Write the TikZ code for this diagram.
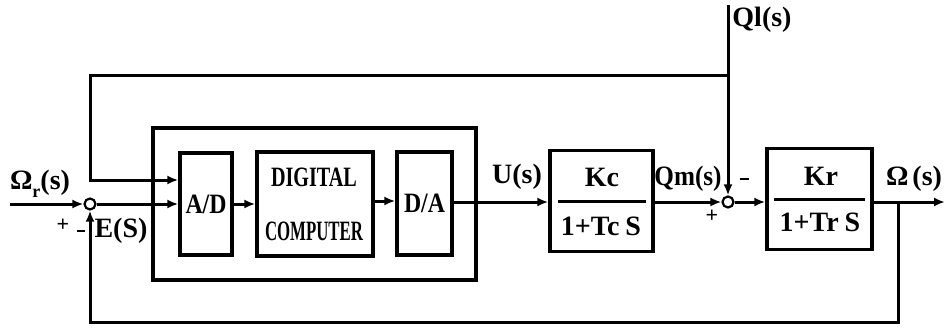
\documentclass[tikz,border=0pt]{standalone}
\usepackage{fontspec}
\setmainfont{Liberation Serif}
\usetikzlibrary{arrows.meta}
\begin{document}
\begin{tikzpicture}[x=1pt,y=-1pt,
  every node/.style={font=\fontsize{28}{32}\selectfont\bfseries},
  blk/.style={draw,line width=3.4pt,rectangle,inner sep=0pt,align=center},
  sumpt/.style={draw,circle,line width=2.2pt,minimum size=11pt,inner sep=0pt},
  wire/.style={line width=3pt},
  arr/.style={wire,-{Latex[length=11pt,width=9pt]}},
  lbl/.style={inner sep=0pt},
  sgn/.style={inner sep=0pt,font=\fontsize{22}{22}\selectfont\bfseries}]
\useasboundingbox (0,0) rectangle (950,333);
% outer box
\node[blk,minimum width=323pt,minimum height=152pt] (outer) at (314.5,204) {};
% blocks
\node[blk,minimum width=52pt,minimum height=102pt] (ad) at (206,204) {\scalebox{0.85}[1]{A/D}};
\node[blk,minimum width=116pt,minimum height=104pt] (dc) at (315,204) {};
\node[lbl] (dig) at (314,177) {\scalebox{0.72}[1]{DIGITAL}};
\node[lbl] (comp) at (314,231) {\scalebox{0.6}[1]{COMPUTER}};
\node[blk,minimum width=55pt,minimum height=103pt] (da) at (424.5,203.5) {\scalebox{0.85}[1]{D/A}};
\node[blk,minimum width=103pt,minimum height=101pt] (kc) at (601.5,201) {};
\node[lbl] (kcn) at (602,177) {Kc};
\node[lbl] (kcd) at (601,226) {1+Tc\hspace{6pt}S};
\draw[wire] ([xshift=10pt]kc.west) -- ([xshift=-9pt]kc.east);
\node[blk,minimum width=105pt,minimum height=101pt] (kr) at (819.5,199) {};
\node[lbl] (krn) at (821,176) {Kr};
\node[lbl] (krd) at (820,222) {1+Tr\hspace{6pt}S};
\draw[wire] ([xshift=9pt,yshift=0pt]kr.west) -- ([xshift=-9pt]kr.east);
% summing points
\node[sumpt] (s1) at (90,204) {};
\node[sumpt] (s2) at (728,202) {};
% coordinates
\coordinate (inp) at (10,204);
\coordinate (qtop) at (728,5);
\coordinate (j1) at (728,75);
\coordinate (c1) at (90,75);
\coordinate (c2) at (90,180);
\coordinate (j2) at (898,202);
\coordinate (c3) at (898,322);
\coordinate (c4) at (90,322);
\coordinate (out) at (945,202);
% connectors
\draw[arr] (inp) -- (s1.west);
\draw[arr] (s1.east) -- (ad.west |- s1);
\draw[arr] (ad.east |- 0,204) -- (dc.west |- 0,204);
\draw[arr] (dc.east |- 0,201) -- (da.west |- 0,201);
\draw[arr] (da.east |- 0,202) -- (kc.west |- 0,202);
\draw[arr] (kc.east |- s2) -- (s2.west);
\draw[arr] (s2.east) -- (kr.west |- s2);
\draw[arr] (kr.east |- out) -- (out);
\draw[arr] (qtop) -- (s2.north);
\draw[arr] (j1) -- (c1) -- (c2) -- (c2 -| ad.west);
\draw[arr] (j2) -- (c3) -- (c4) -- (s1.south);
% labels
\node[lbl] (omr) at (40,184) {Ω\raisebox{-8pt}{\fontsize{18}{18}\selectfont r}(s)};
\node[sgn] (p1) at (63,225) {+};
\node[sgn] (m1) at (81,232) {\rule[2pt]{8pt}{2.6pt}};
\node[lbl] (es) at (121,231) {E(S)};
\node[lbl] (us) at (517,177) {U(s)};
\node[lbl] (qm) at (688,179) {\scalebox{0.9}[1]{Qm(s)}};
\node[sgn] (m2) at (744,180) {\rule[2pt]{9pt}{2.6pt}};
\node[sgn] (p2) at (712,216) {+};
\node[lbl] (ql) at (762,20) {Ql(s)};
\node[lbl] (om) at (914,179) {Ω\hspace{4pt}(s)};
\end{tikzpicture}
\end{document}
